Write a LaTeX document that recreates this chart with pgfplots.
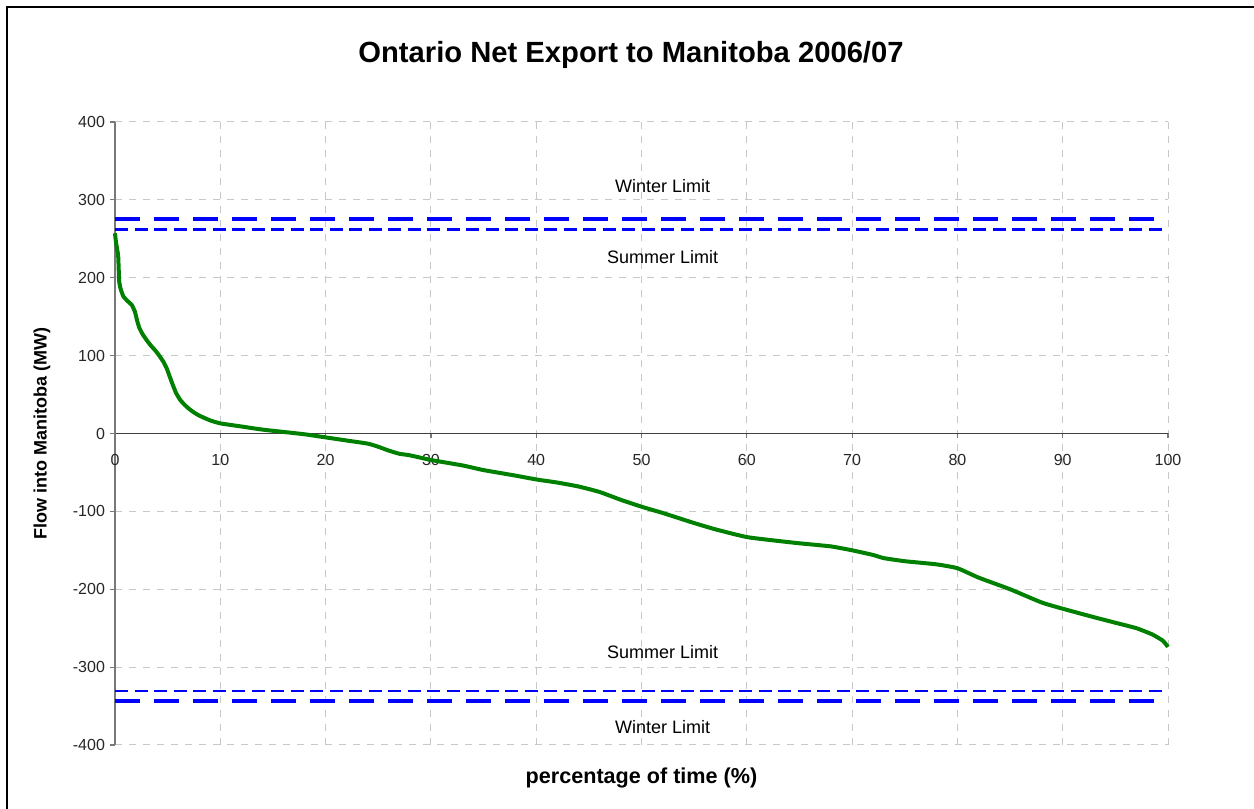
\documentclass[border=0pt]{standalone}
\usepackage{fontspec}
\setmainfont{Liberation Sans}
\usepackage{pgfplots}
\pgfplotsset{compat=1.18}
\definecolor{gridgray}{RGB}{200,200,200}
\definecolor{axgray}{RGB}{120,120,120}
\definecolor{cgreen}{RGB}{0,128,0}
\begin{document}
\begin{tikzpicture}[x=0.5pt,y=0.5pt]
\path[use as bounding box] (0,0) rectangle (1254,809);
\draw[line width=1.25pt] (7,0) -- (7,802) -- (1254,802);
\begin{axis}[
  at={(57.5pt,32pt)}, anchor=south west,
  scale only axis, width=526.5pt, height=311.5pt,
  xmin=0, xmax=100, ymin=-400, ymax=400,
  axis x line*=middle, axis y line*=left,
  hide obscured x ticks=false, hide obscured y ticks=false,
  x axis line style={black!75, line width=0.6pt, -},
  y axis line style={axgray, line width=0.6pt, -},
  xtick={0,10,20,30,40,50,60,70,80,90,100},
  xticklabels={0,10,20,30,40,50,60,70,80,90,100},
  ytick={-400,-300,-200,-100,0,100,200,300,400},
  yticklabels={-400,-300,-200,-100,0,100,200,300,400},
  tick align=outside, major tick length=2.5pt,
  tick style={axgray, line width=0.6pt},
  ticklabel style={font=\fontsize{8}{9.6}\selectfont, text=black!85},
  xticklabel style={yshift=-4.5pt},
  yticklabel style={xshift=1pt},
  grid=major,
  grid style={gridgray, line width=0.5pt, dash pattern=on 3.5pt off 3.5pt},
  clip=false,
]
\addplot[blue, line width=2pt, dash pattern=on 12.5pt off 7pt] coordinates {(0,275) (100,275)};
\addplot[blue, line width=1.15pt, dash pattern=on 6.5pt off 3.25pt] coordinates {(0,262) (100,262)};
\addplot[blue, line width=1.15pt, dash pattern=on 6.5pt off 3.25pt] coordinates {(0,-331) (100,-331)};
\addplot[blue, line width=2pt, dash pattern=on 12.5pt off 7pt] coordinates {(0,-343) (100,-343)};
\addplot[cgreen, line width=2pt, smooth, tension=0.3] coordinates {
(0,257) (0.1,245) (0.3,228) (0.4,195) (0.55,185) (0.8,176) (1.2,170) (1.6,165)
(1.9,156) (2.1,145) (2.3,136) (2.6,128) (3.0,120) (3.4,113) (3.8,107) (4.2,100)
(4.6,92) (4.9,84) (5.2,73) (5.5,62) (5.8,52) (6.2,43) (6.6,37) (7.0,32) (7.5,27)
(8.0,23) (9.0,17) (10.0,13) (12,9) (14,5) (16,2) (18,-1) (20,-5) (22,-9) (24,-13)
(25,-17) (26,-22) (27,-26) (28,-28) (30,-34) (33,-41) (35,-47) (38,-54) (40,-59)
(42,-63) (44,-68) (46,-75) (48,-85) (50,-94) (52,-102) (55,-115) (57,-123) (60,-133)
(63,-138) (65,-141) (68,-145) (70,-150) (72,-156) (73,-160) (75,-164) (78,-168)
(80,-173) (82,-185) (85,-200) (88,-217) (90,-225) (93,-236) (95,-243) (97,-250)
(98.5,-258) (99.5,-266) (100,-274)};
\node[font=\fontsize{9}{10.8}\selectfont] at (axis cs:52.0,318) {Winter Limit};
\node[font=\fontsize{9}{10.8}\selectfont] at (axis cs:52.0,226) {Summer Limit};
\node[font=\fontsize{9}{10.8}\selectfont] at (axis cs:52.0,-281) {Summer Limit};
\node[font=\fontsize{9}{10.8}\selectfont] at (axis cs:52.0,-377) {Winter Limit};
\end{axis}
\node[font=\fontsize{14.6}{17}\selectfont\bfseries] at (631,754) {Ontario Net Export to Manitoba 2006/07};
\node[font=\fontsize{10.8}{13}\selectfont\bfseries] at (641.5,31) {percentage of time (\%)};
\node[font=\fontsize{9}{10.8}\selectfont\bfseries, rotate=90] at (42,375.5) {Flow into Manitoba (MW)};
\end{tikzpicture}
\end{document}
